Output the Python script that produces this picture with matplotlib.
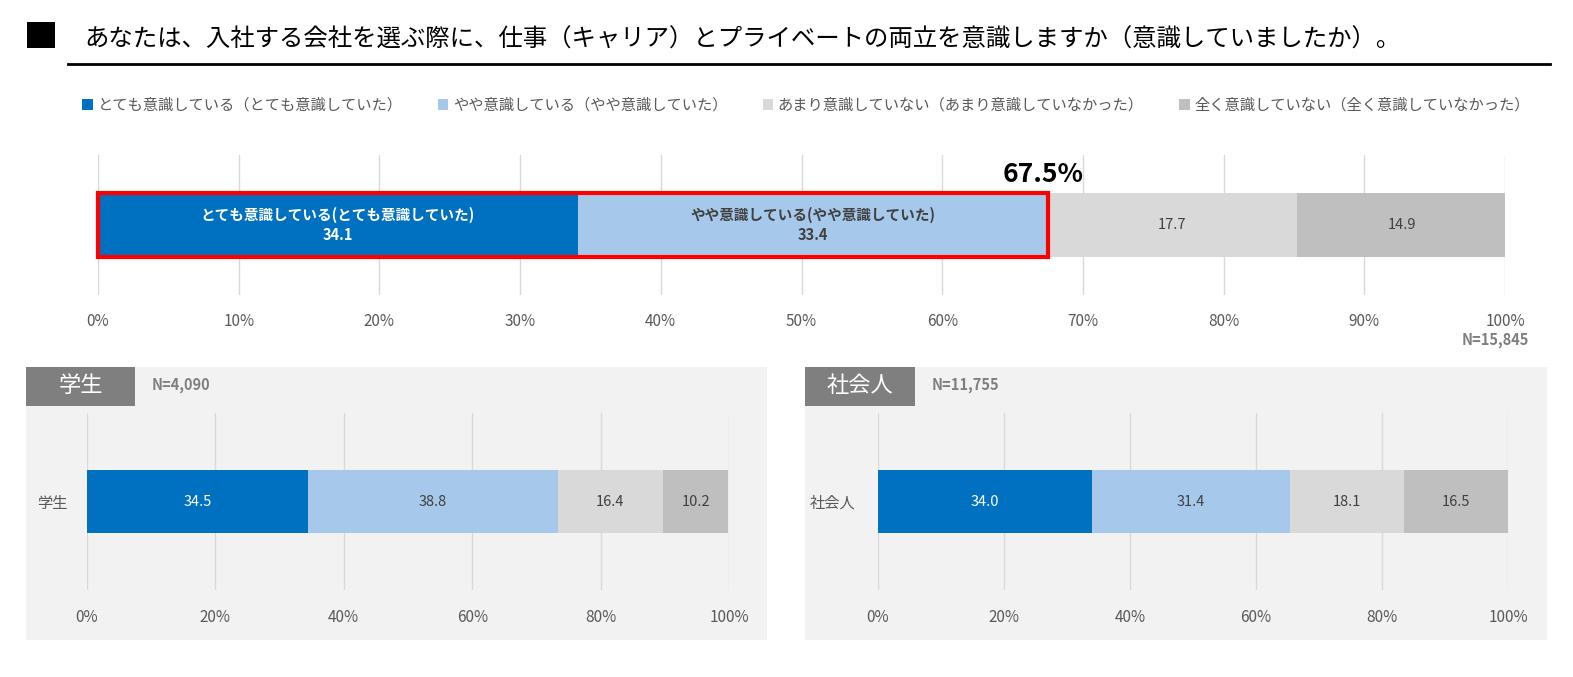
import matplotlib
matplotlib.use("Agg")
import matplotlib.pyplot as plt
from matplotlib.patches import Rectangle
from matplotlib.lines import Line2D

plt.rcParams['font.family'] = ['Noto Sans CJK JP', 'DejaVu Sans']

W, H = 1573, 677

title = "あなたは、入社する会社を選ぶ際に、仕事（キャリア）とプライベートの両立を意識しますか（意識していましたか）。"
categories = ["とても意識している（とても意識していた）",
              "やや意識している（やや意識していた）",
              "あまり意識していない（あまり意識していなかった）",
              "全く意識していない（全く意識していなかった）"]
short_labels = ["とても意識している(とても意識していた)",
                "やや意識している(やや意識していた)"]
total_vals = [34.1, 33.4, 17.7, 14.9]
total_n = "N=15,845"
highlight = "67.5%"
student_vals = [34.5, 38.8, 16.4, 10.2]
student_name = "学生"
student_n = "N=4,090"
worker_vals = [34.0, 31.4, 18.1, 16.5]
worker_name = "社会人"
worker_n = "N=11,755"
top_ticks = [0, 10, 20, 30, 40, 50, 60, 70, 80, 90, 100]
sub_ticks = [0, 20, 40, 60, 80, 100]

colors = ["#0070C0", "#A6C9EB", "#D9D9D9", "#BFBFBF"]
text_colors = ["white", "#404040", "#404040", "#404040"]
grid_c = "#D9D9D9"
tick_c = "#595959"


def fx(x):
    return x / W


def fy(y):
    return 1 - y / H


def add_ax(x0, y0, x1, y1):
    return fig.add_axes([fx(x0), fy(y1), fx(x1) - fx(x0), (y1 - y0) / H])


fig = plt.figure(figsize=(W / 100, H / 100), dpi=100)

# Title
fig.add_artist(Rectangle((fx(27), fy(48)), fx(28), 26 / H, transform=fig.transFigure,
                         facecolor="black", edgecolor="none"))
fig.text(fx(84), fy(40), title, fontsize=17.6, va="center", ha="left", color="black")
fig.add_artist(Line2D([fx(68), fx(1550)], [fy(64), fy(64)], transform=fig.transFigure,
                      color="black", lw=2))

# Panel backgrounds
for (x0, x1) in [(26, 767), (805, 1547)]:
    fig.add_artist(Rectangle((fx(x0), fy(640)), fx(x1 - x0), (640 - 367) / H,
                             transform=fig.transFigure, facecolor="#F2F2F2",
                             edgecolor="none", zorder=0))


def style_axes(ax, ticks, pad):
    ax.set_xlim(0, 100)
    ax.set_xticks(ticks)
    ax.set_xticklabels([f"{t}%" for t in ticks])
    ax.tick_params(axis="x", length=0, pad=pad, labelsize=11, labelcolor=tick_c)
    ax.tick_params(axis="y", length=0)
    for s in ax.spines.values():
        s.set_visible(False)
    ax.grid(axis="x", color=grid_c, lw=1)
    ax.set_axisbelow(True)
    ax.patch.set_alpha(0)


# Top axes
ax = add_ax(98, 155, 1505, 295)
left = 0
conts = []
for i, v in enumerate(total_vals):
    c = ax.barh(0, v, left=left, height=1.0, color=colors[i], label=categories[i])
    conts.append(c)
    if i < 2:
        ax.text(left + v / 2, 0, f"{short_labels[i]}\n{v}", ha="center", va="center",
                fontsize=10.5, fontweight="bold", color=text_colors[i], linespacing=1.25)
    else:
        ax.text(left + v / 2, 0, f"{v}", ha="center", va="center",
                fontsize=10.5, color=text_colors[i])
    left += v
ax.set_ylim(-1.1, 1.1)
ax.set_yticks([])
style_axes(ax, top_ticks, 13)
hl = total_vals[0] + total_vals[1]
ax.add_patch(Rectangle((0, -0.5), hl, 1.0, fill=False, edgecolor="#FF0000", lw=3,
                       clip_on=False, zorder=5))
ax.annotate(highlight, xy=(hl, 0.5), xytext=(-3, 4), textcoords="offset points",
            ha="center", va="bottom", fontsize=19, fontweight="bold", color="black")
fig.text(fx(1529), fy(340), total_n, ha="right", va="center", fontsize=10.5,
         fontweight="bold", color="#7F7F7F")

# Legend
fig.legend(handles=conts, labels=categories, loc="center", bbox_to_anchor=(fx(806), fy(105)),
           ncol=4, frameon=False, fontsize=11, handlelength=0.7, handleheight=0.7,
           handletextpad=0.3, columnspacing=2.3, labelcolor="#595959")


def sub_panel(x0, y0, x1, y1, vals, name, nlabel, tab_x0, tab_x1, ypad):
    a = add_ax(x0, y0, x1, y1)
    lft = 0
    for i, v in enumerate(vals):
        a.barh(0, v, left=lft, height=0.5, color=colors[i])
        a.text(lft + v / 2, 0, f"{v}", ha="center", va="center", fontsize=10.5,
               color=text_colors[i])
        lft += v
    a.set_ylim(-0.7, 0.7)
    a.set_yticks([0])
    a.set_yticklabels([name])
    a.tick_params(axis="y", labelsize=11, labelcolor=tick_c, pad=ypad)
    style_axes(a, sub_ticks, 14)
    fig.add_artist(Rectangle((fx(tab_x0), fy(406)), fx(tab_x1 - tab_x0), 39 / H,
                             transform=fig.transFigure, facecolor="#7F7F7F",
                             edgecolor="none"))
    fig.text(fx((tab_x0 + tab_x1) / 2), fy(386), name, ha="center", va="center",
             fontsize=16, color="white")
    fig.text(fx(tab_x1 + 17), fy(385), nlabel, ha="left", va="center", fontsize=10.5,
             fontweight="bold", color="#7F7F7F")


sub_panel(87, 413, 729, 590, student_vals, student_name, student_n, 26, 135, 14)
sub_panel(878, 413, 1508, 590, worker_vals, worker_name, worker_n, 805, 915, 16)

fig.savefig("out.png", dpi=100)
